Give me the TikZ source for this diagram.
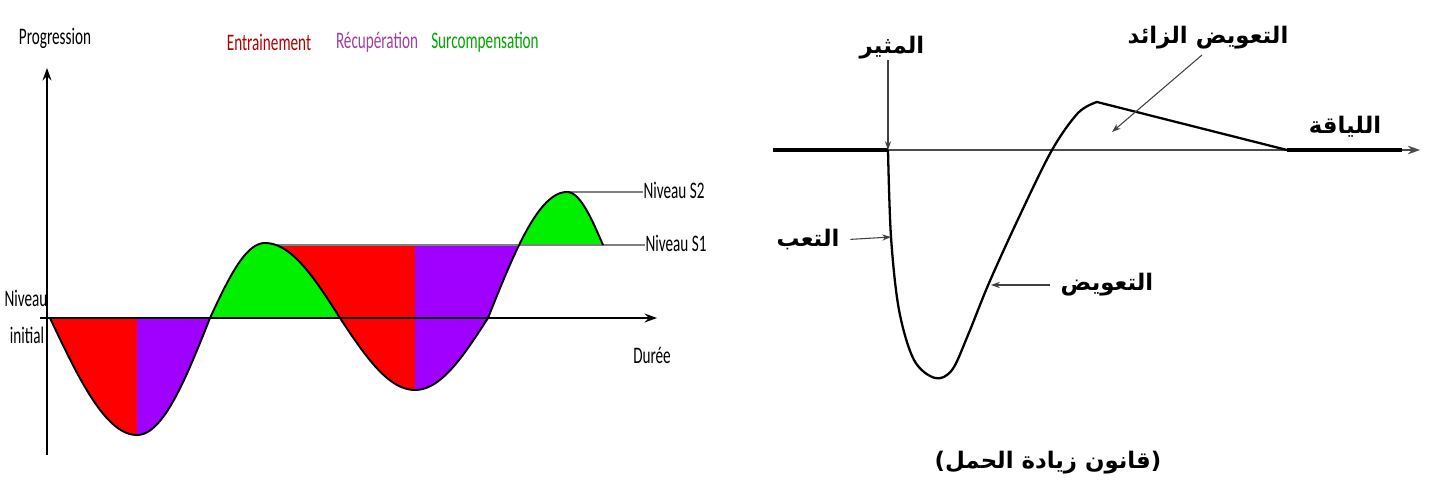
\documentclass[tikz,border=0pt]{standalone}
\usepackage{fontspec}
\setmainfont{Carlito}[FakeStretch=0.64]
\newfontfamily\arabicfont[Script=Arabic]{DejaVu Sans}
\TeXXeTstate=1
\usetikzlibrary{arrows.meta,positioning}

\definecolor{trainred}{RGB}{255,0,0}
\definecolor{recpurple}{RGB}{160,0,255}
\definecolor{surgreen}{RGB}{0,240,0}

\tikzset{
  axis/.style={line width=1.6pt, -{Stealth[length=7pt,width=5pt]}},
  curve/.style={line width=1.1pt},
  level/.style={gray, line width=1pt},
  lbl/.style={font=\fontsize{13.5}{13.5}\selectfont, inner sep=0pt},
  ar/.style={font=\arabicfont\bfseries\fontsize{13}{13}\selectfont, inner sep=0pt},
  pointer/.style={black!75, line width=0.6pt, -{Stealth[length=5pt,width=3.5pt]}},
}

\begin{document}
\begin{tikzpicture}[x=0.02cm, y=-0.02cm]
\useasboundingbox (0,0) rectangle (1429,493);

% left: training cycle
\fill[trainred] (50,318) -- plot[domain=50:137, samples=40] (\x,{318+117*sin(90*(\x-50)/87)}) -- (137,318) -- cycle;
\fill[recpurple] (137,318) -- plot[domain=137:210, samples=40] (\x,{318+117*sin(90*(210-\x)/73)}) -- cycle;
\fill[surgreen] plot[domain=210:265, samples=30] (\x,{318-75*sin(90*(\x-210)/55)})
  -- plot[domain=265:340, samples=30] (\x,{318-75*sin(90*(340-\x)/75)}) -- cycle;
\fill[trainred] plot[domain=276:340, samples=30] (\x,{318-75*sin(90*(340-\x)/75)})
  -- plot[domain=340:415, samples=30] (\x,{318+72*sin(90*(\x-340)/75)}) -- (415,245) -- cycle;
\fill[recpurple] (415,245) -- plot[domain=415:488, samples=30] (\x,{318+72*sin(90*(488-\x)/73)})
  -- plot[domain=488:519, samples=20] (\x,{318-126*sin(90*(\x-488)/79)}) -- cycle;
\fill[surgreen] plot[domain=519:567, samples=30] (\x,{318-126*sin(90*(\x-488)/79)})
  -- plot[domain=567:603, samples=20] (\x,{192+53*(1-cos(90*(\x-567)/36))}) -- cycle;

\node[lbl] (prog) at (55,38) {Progression};
\node[lbl, text=red!70!black] (train) at (269,42) {Entrainement};
\node[lbl, text=violet!75!white] (recov) at (377,42) {Récupération};
\node[lbl, text=green!65!black] (surcomp) at (485,42) {Surcompensation};
\node[lbl] (s2) at (674,190) {Niveau S2};
\node[lbl] (s1) at (676,243) {Niveau S1};
\node[lbl] (duree) at (652,355) {Durée};
\node[lbl] (niv) at (26,298) {Niveau};
\node[lbl] (init) at (27,335) {initial};

\coordinate (ybot) at (47,455);
\coordinate (ytop) at (47,68);
\coordinate (xleft) at (40,318);
\coordinate (xright) at (657,318);
\coordinate (top2) at (567,192);
\coordinate (s1start) at (276,245);

\draw[level] (s1start) -- (s1.west |- s1start);
\draw[level] (top2) -- (s2.west |- top2);
\draw[axis] (ybot) -- (ytop);
\draw[axis] (xleft) -- (xright);
\draw[curve] plot[domain=50:137, samples=40] (\x,{318+117*sin(90*(\x-50)/87)})
  -- plot[domain=137:210, samples=40] (\x,{318+117*sin(90*(210-\x)/73)})
  -- plot[domain=210:265, samples=30] (\x,{318-75*sin(90*(\x-210)/55)})
  -- plot[domain=265:340, samples=30] (\x,{318-75*sin(90*(340-\x)/75)})
  -- plot[domain=340:415, samples=30] (\x,{318+72*sin(90*(\x-340)/75)})
  -- plot[domain=415:488, samples=30] (\x,{318+72*sin(90*(488-\x)/73)})
  -- plot[domain=488:567, samples=40] (\x,{318-126*sin(90*(\x-488)/79)})
  -- plot[domain=567:603, samples=20] (\x,{192+53*(1-cos(90*(\x-567)/36))});

% right: overload law
\coordinate (aleft) at (773,150);
\coordinate (aright) at (1420,150);
\coordinate (stimpt) at (888,150);
\coordinate (backpt) at (1287,150);
\coordinate (fatpt) at (891,237);
\coordinate (comppt) at (991,285);
\coordinate (superpt) at (1112,132);

\draw[gray!60!black, line width=0.9pt, -{Stealth[length=7pt,width=5pt]}] (aleft) -- (aright);
\draw[line width=1.8pt] (aleft) -- (stimpt);
\draw[line width=1.8pt] (backpt) -- (1402,150);
\draw[line width=1.3pt, line join=round] plot[smooth, tension=0.55] coordinates {(888,150) (891,237) (899,310) (914,360) (935,378) (952,370) (968,335) (989,283) (1020,215) (1052,150) (1078,113) (1097,102)} -- (backpt);

\node[ar] (stim) at (892,48) {\beginR المثير\endR};
\node[ar] (supercomp) at (1208,38) {\beginR التعويض الزائد\endR};
\node[ar] (fitness) at (1345,127) {\beginR اللياقة\endR};
\node[ar] (fatigue) at (808,240) {\beginR التعب\endR};
\node[ar] (comp) at (1107,285) {\beginR التعويض\endR};
\node[ar] (law) at (1048,463) {)\beginR قانون زيادة الحمل\endR(};

\draw[pointer] (stim.south -| stimpt) -- (stimpt);
\draw[pointer, shorten <=6pt] (fatigue.east) -- (fatpt);
\draw[pointer, shorten <=6pt] (comp.west) -- (comppt);
\draw[pointer] (1202,55) -- (superpt);
\end{tikzpicture}
\end{document}
